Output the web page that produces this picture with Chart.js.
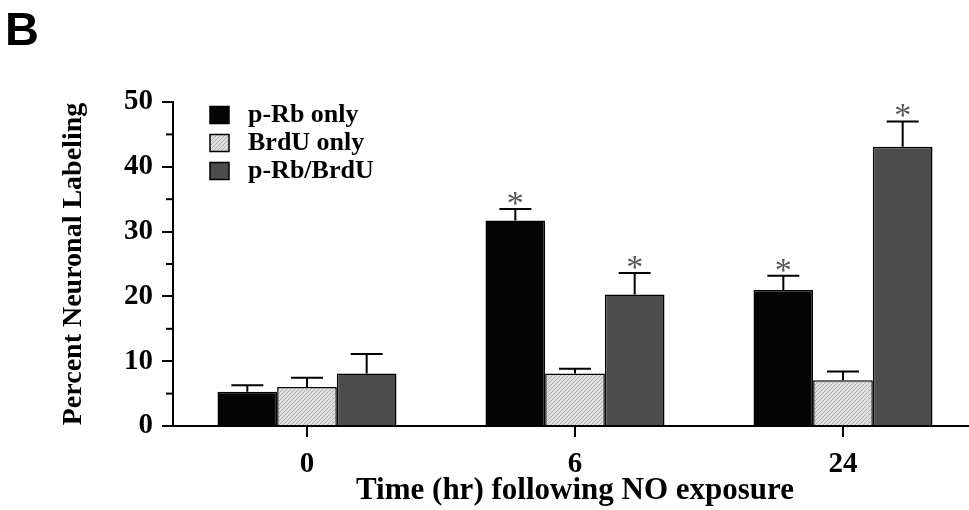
<!DOCTYPE html>
<html><head><meta charset="utf-8">
<script src="https://cdn.jsdelivr.net/npm/chart.js@4.4.1/dist/chart.umd.min.js"></script>
<style>html,body{margin:0;padding:0;background:#fff;overflow:hidden;} #wrap{width:980px;height:510px;}</style>
</head><body><div id="wrap"><canvas id="c" width="980" height="510"></canvas></div>
<script>
const categories = ['0', '6', '24'];
const seriesLabels = ['p-Rb only', 'BrdU only', 'p-Rb/BrdU'];
const pRbOnly = [5.3, 31.7, 21.0];
const brduOnly = [6.0, 8.1, 7.05];
const pRbBrdU = [8.1, 20.3, 43.1];
const pRbOnlyErr = [1.0, 1.8, 2.2];
const brduOnlyErr = [1.45, 0.75, 1.35];
const pRbBrdUErr = [3.0, 3.3, 3.9];
const pRbOnlySig = [false, true, true];
const brduOnlySig = [false, false, false];
const pRbBrdUSig = [false, true, true];
const yTickValues = [0, 10, 20, 30, 40, 50];
const yMinorTickValues = [5, 15, 25, 35, 45];
const panelLabel = 'B';
const xTitle = 'Time (hr) following NO exposure';
const yTitle = 'Percent Neuronal Labeling';

function makeHatch() {
  const p = document.createElement('canvas'); p.width = 4; p.height = 4;
  const g = p.getContext('2d');
  g.fillStyle = '#dedede'; g.fillRect(0, 0, 4, 4);
  g.strokeStyle = '#b2b2b2'; g.lineWidth = 1;
  g.beginPath();
  g.moveTo(0, 4); g.lineTo(4, 0);
  g.moveTo(-2, 2); g.lineTo(2, -2);
  g.moveTo(2, 6); g.lineTo(6, 2);
  g.stroke();
  return g.createPattern(p, 'repeat');
}
const hatch = makeHatch();
const fills = ['#050505', hatch, '#4c4c4c'];
const seriesValues = [pRbOnly, brduOnly, pRbBrdU];
const seriesErrors = [pRbOnlyErr, brduOnlyErr, pRbBrdUErr];
const seriesSig = [pRbOnlySig, brduOnlySig, pRbBrdUSig];

const serif = 'Liberation Serif';

const extras = {
  id: 'extras',
  afterDatasetsDraw(chart) {
    const ctx = chart.ctx, y = chart.scales.y, area = chart.chartArea;
    ctx.save();
    chart.data.datasets.forEach((ds, i) => {
      const meta = chart.getDatasetMeta(i);
      meta.data.forEach((el, j) => {
        const top = y.getPixelForValue(ds.data[j] + seriesErrors[i][j]);
        ctx.strokeStyle = '#000'; ctx.lineWidth = 2;
        ctx.beginPath();
        ctx.moveTo(el.x, el.y); ctx.lineTo(el.x, top);
        ctx.moveTo(el.x - 16, top); ctx.lineTo(el.x + 16, top);
        ctx.stroke();
        if (seriesSig[i][j]) {
          ctx.fillStyle = '#555';
          ctx.font = '34px "' + serif + '"';
          ctx.textAlign = 'center'; ctx.textBaseline = 'alphabetic';
          ctx.fillText('*', el.x, top + 5);
        }
      });
    });
    ctx.strokeStyle = '#000'; ctx.lineWidth = 2;
    yMinorTickValues.forEach(v => {
      const py = y.getPixelForValue(v);
      ctx.beginPath(); ctx.moveTo(y.right - 7, py); ctx.lineTo(y.right, py); ctx.stroke();
    });
    // legend
    chart.data.datasets.forEach((ds, i) => {
      const cy = area.top + 13 + i * 28;
      const bx = area.left + 37;
      ctx.fillStyle = ds.backgroundColor;
      ctx.fillRect(bx, cy - 8.5, 19, 17);
      ctx.strokeStyle = '#000'; ctx.lineWidth = 1.5;
      ctx.strokeRect(bx, cy - 8.5, 19, 17);
      ctx.fillStyle = '#000';
      ctx.font = 'bold 26px "' + serif + '"';
      ctx.textAlign = 'left'; ctx.textBaseline = 'middle';
      ctx.fillText(ds.label, area.left + 75, cy);
    });
    ctx.restore();
  }
};

new Chart(document.getElementById('c'), {
  type: 'bar',
  data: {
    labels: categories,
    datasets: seriesLabels.map((lab, i) => ({
      label: lab,
      data: seriesValues[i],
      backgroundColor: fills[i],
      borderColor: '#000',
      borderWidth: 1.5,
      borderSkipped: 'start',
      barPercentage: 1,
      categoryPercentage: 0.668
    }))
  },
  options: {
    responsive: false, animation: false, devicePixelRatio: 1,
    layout: { padding: { left: 5, right: 3, top: 0, bottom: 0 } },
    plugins: {
      legend: { display: false },
      tooltip: { enabled: false },
      title: {
        display: true, text: panelLabel, align: 'start', color: '#000',
        font: { family: 'Liberation Sans', size: 47, weight: 'bold' },
        padding: { top: 4, bottom: 41.6 }
      }
    },
    scales: {
      x: {
        type: 'category', offset: true,
        grid: { display: true, drawOnChartArea: false, drawTicks: true, tickLength: 11, tickWidth: 2, tickColor: '#000', offset: false, lineWidth: 2 },
        border: { display: true, color: '#000', width: 2 },
        ticks: { color: '#000', font: { family: serif, size: 29, weight: 'bold' }, padding: 10, maxRotation: 0 },
        title: { display: true, text: xTitle, color: '#000', font: { family: serif, size: 31, weight: 'bold' }, padding: { top: 0, bottom: 0 } },
        afterFit(s) { s.height = 84; }
      },
      y: {
        min: 0, max: 50,
        afterBuildTicks(s) { s.ticks = yTickValues.map(v => ({ value: v })); },
        grid: { display: true, drawOnChartArea: false, drawTicks: true, tickLength: 11, tickWidth: 2, tickColor: '#000', lineWidth: 2 },
        border: { display: true, color: '#000', width: 2 },
        ticks: { color: '#000', font: { family: serif, size: 29, weight: 'bold' }, padding: 9 },
        title: { display: true, text: yTitle, color: '#000', font: { family: serif, size: 28, weight: 'bold' }, padding: { top: 52, bottom: 0 } },
        afterFit(s) { s.width = 168; }
      }
    }
  },
  plugins: [extras]
});
</script>
</body></html>
